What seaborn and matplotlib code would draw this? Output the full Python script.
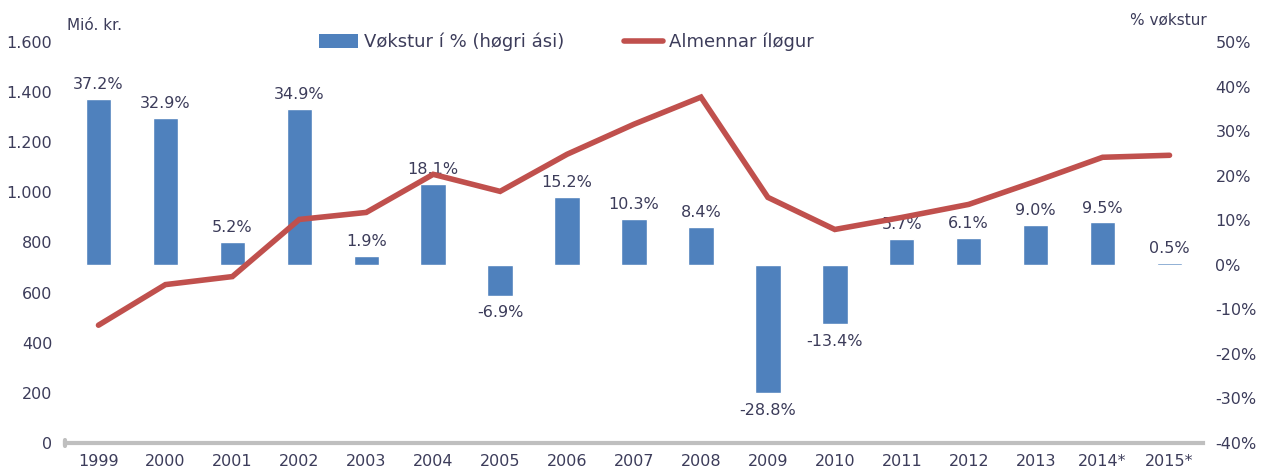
import pandas as pd
import seaborn as sns
import matplotlib.pyplot as plt
import matplotlib.ticker as mtick
from matplotlib.patches import Patch
from matplotlib.lines import Line2D
import numpy as np

# Data
years = ['1999', '2000', '2001', '2002', '2003', '2004', '2005', '2006', '2007',
         '2008', '2009', '2010', '2011', '2012', '2013', '2014*', '2015*']
growth_pct = [37.2, 32.9, 5.2, 34.9, 1.9, 18.1, -6.9, 15.2, 10.3,
              8.4, -28.8, -13.4, 5.7, 6.1, 9.0, 9.5, 0.5]
investments = [470, 632, 664, 892, 920, 1072, 1004, 1152, 1272,
               1380, 980, 852, 900, 952, 1044, 1140, 1148]

bar_label = 'Vøkstur í % (høgri ási)'
line_label = 'Almennar íløgur'

df = pd.DataFrame({'year': years, 'growth': growth_pct, 'inv': investments})
df['pos'] = np.arange(len(df))

BLUE = '#4F81BD'
RED = '#C0504D'
TXT = '#3C3C5A'

sns.set_style("white")
plt.rcParams['font.family'] = ['DejaVu Sans']

fig = plt.figure(figsize=(12.61, 4.70), dpi=100)
ax = fig.add_axes([65 / 1261, 27 / 470, 1138 / 1261, 401 / 470])

# bars -> right axis (growth %)
sns.barplot(data=df, x='year', y='growth', color=BLUE, width=0.38,
            saturation=1, ax=ax, zorder=2)
ax.set_ylim(-40, 50)
ax.set_xlim(-0.5, len(years) - 0.5)
ax.yaxis.set_major_locator(mtick.MultipleLocator(10))
ax.yaxis.set_major_formatter(mtick.FuncFormatter(lambda v, p: f"{v:.0f}%"))
ax.set_xlabel('')
ax.set_ylabel('')

for i, v in enumerate(growth_pct):
    if v >= 0:
        ax.annotate(f"{v:.1f}%", (i, v), xytext=(0, 5), textcoords='offset points',
                    ha='center', va='bottom', fontsize=11.5, color=TXT)
    else:
        ax.annotate(f"{v:.1f}%", (i, v), xytext=(0, -7), textcoords='offset points',
                    ha='center', va='top', fontsize=11.5, color=TXT)

# line -> left axis (investments)
ax2 = ax.twinx()
sns.lineplot(data=df, x='pos', y='inv', color=RED, linewidth=4, ax=ax2,
             solid_joinstyle='miter')
ax2.set_ylim(0, 1600)
ax2.yaxis.set_major_locator(mtick.MultipleLocator(200))
ax2.yaxis.set_major_formatter(mtick.FuncFormatter(lambda v, p: f"{v:,.0f}".replace(',', '.')))
ax2.set_xlabel('')
ax2.set_ylabel('')

# swap sides: growth on the right, investments on the left
ax.yaxis.tick_right()
ax2.yaxis.tick_left()

for a in (ax, ax2):
    for s in a.spines.values():
        s.set_visible(False)
    a.tick_params(axis='y', length=0, labelsize=11.5, labelcolor=TXT, pad=9)
    a.tick_params(axis='x', length=0, labelsize=11.5, labelcolor=TXT, pad=8)

ax2.spines['bottom'].set_visible(True)
ax2.spines['bottom'].set_color('#BFBFBF')
ax2.spines['bottom'].set_linewidth(3)
ax2.plot([-0.5, -0.5], [-12, 12], color='#BFBFBF', lw=3, clip_on=False)

fig.text(67 / 1261, 1 - 25 / 470, 'Mió. kr.', fontsize=11, color=TXT, va='center')
fig.text(1207 / 1261, 1 - 20 / 470, '% vøkstur', fontsize=11, color=TXT,
         va='center', ha='right')

handles = [Patch(facecolor=BLUE, edgecolor='none'),
           Line2D([0], [0], color=RED, lw=4, solid_capstyle='round')]
fig.legend(handles, [bar_label, line_label], loc='center',
           bbox_to_anchor=(566 / 1261, 1 - 42 / 470), ncol=2, frameon=False,
           fontsize=13, labelcolor=TXT, handlelength=2.2, handletextpad=0.3,
           columnspacing=3.3, handleheight=0.8)

plt.savefig('out.png', dpi=100)
